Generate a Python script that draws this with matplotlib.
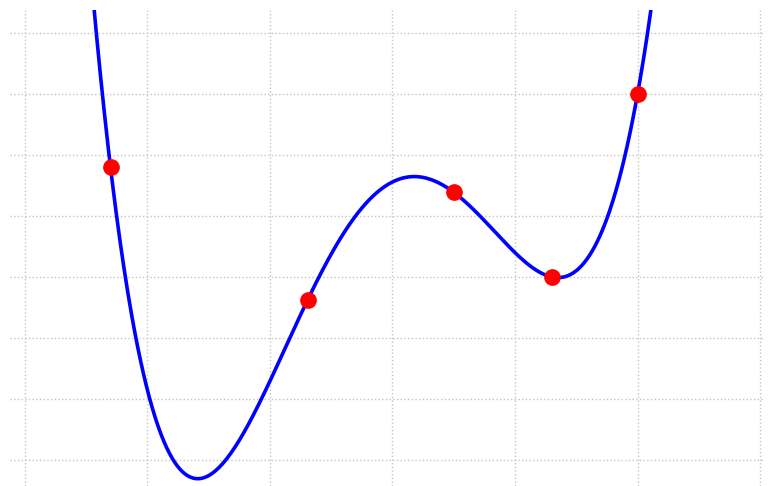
import matplotlib
matplotlib.use('Agg')
import matplotlib.pyplot as plt
import numpy as np

# 插值点
x_points = [0.70, 2.31, 3.50, 4.30, 5.00]
y_points = [4.80, 2.63, 4.39, 3.00, 6.00]

x_ticks = [0, 1, 2, 3, 4, 5, 6]
y_ticks = [0, 1, 2, 3, 4, 5, 6, 7]

# 四次插值多项式
coef = np.polyfit(x_points, y_points, len(x_points) - 1)
xs = np.linspace(-0.2, 6.1, 800)
ys = np.polyval(coef, xs)

fig = plt.figure(figsize=(7.68, 4.86), dpi=100)
ax = fig.add_axes([10 / 768, 0, 755 / 768, 476 / 486])

ax.plot(xs, ys, color='blue', linewidth=2.6, zorder=2)
ax.plot(x_points, y_points, 'o', color='red', markersize=11, zorder=3)

ax.set_xlim(-0.12, 6.04)
ax.set_ylim(-0.43, 7.38)
ax.set_xticks(x_ticks)
ax.set_yticks(y_ticks)
ax.tick_params(length=0, labelbottom=False, labelleft=False)
for s in ax.spines.values():
    s.set_visible(False)
ax.grid(True, linestyle=':', color='#c4c4c4', linewidth=1)
ax.set_axisbelow(True)

plt.savefig('out.png', dpi=100)
